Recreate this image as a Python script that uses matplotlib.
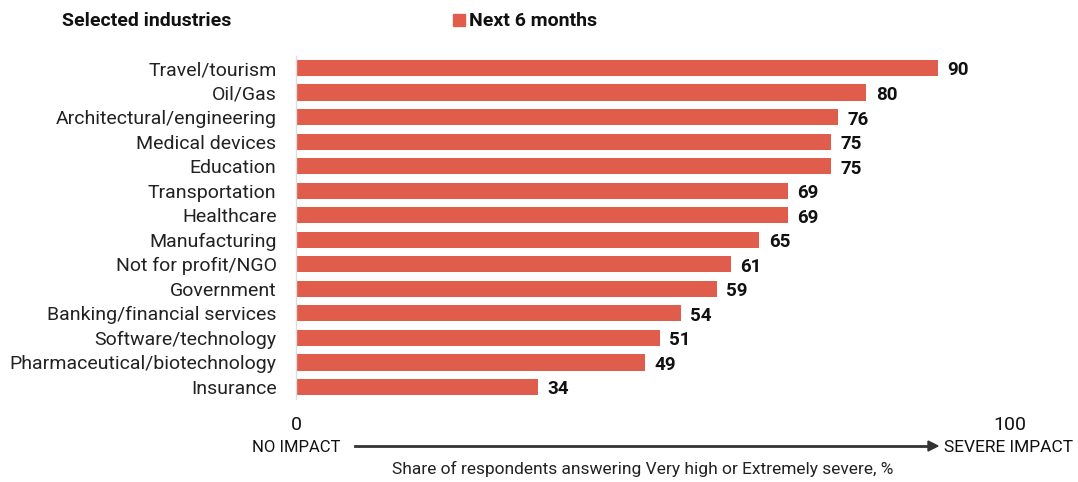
import matplotlib.pyplot as plt
from matplotlib.patches import Rectangle

industries = [
    "Travel/tourism", "Oil/Gas", "Architectural/engineering", "Medical devices",
    "Education", "Transportation", "Healthcare", "Manufacturing",
    "Not for profit/NGO", "Government", "Banking/financial services",
    "Software/technology", "Pharmaceutical/biotechnology", "Insurance",
]
next_6_months = [90, 80, 76, 75, 75, 69, 69, 65, 61, 59, 54, 51, 49, 34]

BAR = "#e05c4b"
W, H = 1078, 482

plt.rcParams['font.family'] = ['Roboto', 'DejaVu Sans']

fig = plt.figure(figsize=(W / 100, H / 100), dpi=100)
ax = fig.add_axes([296 / W, 1 - 399.25 / H, 713 / W, 343.5 / H])

ypos = list(range(len(industries)))
ax.barh(ypos, next_6_months, height=0.66, color=BAR, zorder=2)
for y, v in zip(ypos, next_6_months):
    ax.text(v + 1.3, y + 0.1, f"{v}", va="center", ha="left",
            fontsize=13.5, fontweight="bold", color="#111111")

ax.set_xlim(0, 100)
ax.set_ylim(len(industries) - 0.5, -0.5)
ax.set_yticks(ypos)
ax.set_yticklabels(industries, fontsize=14, color="#222222")
ax.tick_params(axis="y", length=0, pad=14)
ax.set_xticks([])
for side in ["top", "right", "bottom"]:
    ax.spines[side].set_visible(False)
ax.spines["left"].set_color("#dddddd")
ax.spines["left"].set_linewidth(1)

# header: title and legend
fig.text(62 / W, 1 - 21 / H, "Selected industries", fontsize=14,
         fontweight="bold", va="center", ha="left", color="#111111")
fig.patches.append(Rectangle((453 / W, 1 - 26 / H), 12 / W, 12 / H,
                             transform=fig.transFigure, color=BAR))
fig.text(469 / W, 1 - 21 / H, "Next 6 months", fontsize=14,
         fontweight="bold", va="center", ha="left", color="#111111")

# impact scale under the bars
fig.text(296 / W, 1 - 425 / H, "0", fontsize=14, ha="center", va="center", color="#111111")
fig.text(1010 / W, 1 - 425 / H, "100", fontsize=14, ha="center", va="center", color="#111111")
fig.text(296 / W, 1 - 447 / H, "NO IMPACT", fontsize=12, ha="center", va="center", color="#111111")
fig.text(1009 / W, 1 - 447 / H, "SEVERE IMPACT", fontsize=12.5, ha="center", va="center", color="#111111")
fig.add_artist(plt.Line2D([355 / W, 930 / W], [1 - 446 / H, 1 - 446 / H],
                          color="#333333", lw=2))
fig.patches.append(plt.Polygon([[928 / W, 1 - 441 / H], [938 / W, 1 - 446 / H],
                                [928 / W, 1 - 451 / H]], closed=True,
                               transform=fig.transFigure, color="#333333"))
fig.text(643 / W, 1 - 469 / H,
         "Share of respondents answering Very high or Extremely severe, %",
         fontsize=12.5, ha="center", va="center", color="#222222")

fig.savefig("out.png", dpi=100, facecolor="white")
